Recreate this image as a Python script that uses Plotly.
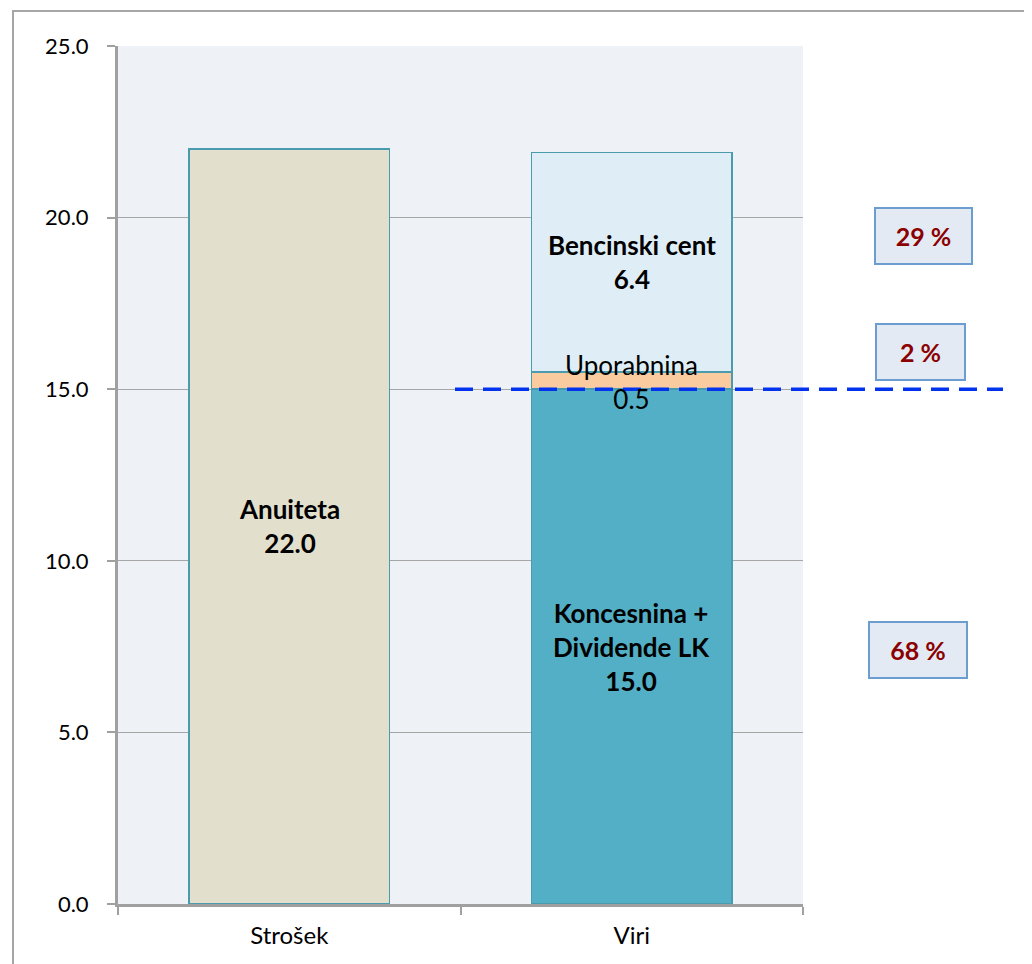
import plotly.graph_objects as go

categories = ["Strošek", "Viri"]
anuiteta = [22.0, None]
koncesnina = [None, 15.0]
uporabnina = [None, 0.5]
bencinski = [None, 6.4]
shares = ["68 %", "2 %", "29 %"]
share_y = [7.4, 16.08, 19.46]
y_ticks = [0, 5, 10, 15, 20, 25]

FONT = "Lato"
edge = dict(color="#4A9BAE", width=1.5)

fig = go.Figure()
fig.add_trace(go.Bar(x=categories, y=anuiteta, marker=dict(color="#E2DFCC", line=edge), width=0.585))
fig.add_trace(go.Bar(x=categories, y=koncesnina, marker=dict(color="#52AFC6", line=edge), width=0.585))
fig.add_trace(go.Bar(x=categories, y=uporabnina, marker=dict(color="#FBCBA0", line=edge), width=0.585))
fig.add_trace(go.Bar(x=categories, y=bencinski, marker=dict(color="#DFEEF6", line=edge), width=0.585))

ann = []
ann.append(dict(x=categories[0], y=anuiteta[0] / 2, text="<b>Anuiteta<br>22.0</b>", showarrow=False,
                font=dict(size=26, color="black", family=FONT)))
ann.append(dict(x=categories[1], y=koncesnina[1] / 2, text="<b>Koncesnina +<br>Dividende LK<br>15.0</b>", showarrow=False,
                font=dict(size=26, color="black", family=FONT)))
ann.append(dict(x=categories[1], y=koncesnina[1] + uporabnina[1] / 2 - 0.05, text="Uporabnina<br>0.5", showarrow=False,
                font=dict(size=26, color="black", family=FONT)))
ann.append(dict(x=categories[1], y=koncesnina[1] + uporabnina[1] + bencinski[1] / 2,
                text="<b>Bencinski cent<br>6.4</b>", showarrow=False,
                font=dict(size=26, color="black", family=FONT)))
share_x = [918, 920, 923]
share_w = [94, 85, 93]
for s, yv, xp, w in zip(shares, share_y, share_x, share_w):
    ann.append(dict(xref="paper", yref="y", x=(xp - 118) / 685, y=yv, xanchor="center", yanchor="middle",
                    text="<b>" + s + "</b>", showarrow=False,
                    font=dict(size=25, color="#8B0000", family=FONT), bgcolor="#E3EAF3",
                    bordercolor="#6C9DD0", borderwidth=2, width=w, height=52))

fig.update_layout(
    barmode="stack",
    showlegend=False,
    width=1024, height=956,
    margin=dict(l=110, r=229, t=38, b=60),
    paper_bgcolor="white",
    plot_bgcolor="#EEF2F7",
    annotations=ann,
    font=dict(family=FONT, size=24, color="black"),
    xaxis=dict(showline=True, linecolor="#A0A0A0", linewidth=3, ticks="outside", tickson="boundaries",
               ticklen=8, tickcolor="#A0A0A0", tickwidth=2, tickfont=dict(size=24, family=FONT),
               showgrid=False, ticklabelstandoff=8),
    yaxis=dict(range=[0, 25], tickvals=y_ticks, tickformat=".1f", showline=True, linecolor="#A0A0A0",
               linewidth=3, ticks="outside", ticklen=8, tickcolor="#A0A0A0", tickwidth=2,
               gridcolor="#A6A6A6", gridwidth=1, tickfont=dict(size=22, family=FONT), zeroline=False,
               ticklabelstandoff=14),
    shapes=[
        dict(type="line", xref="paper", yref="y", x0=(455 - 118) / 685, x1=(1003 - 118) / 685, y0=15, y1=15,
             line=dict(color="#0033EE", width=3.5, dash="18px,10px")),
        dict(type="rect", xref="paper", yref="paper", x0=(13 - 118) / 685, x1=1.6, y0=-0.3, y1=1 + 35 / 858,
             line=dict(color="#A6A6A6", width=2), layer="below"),
    ],
)

fig.write_html("out.html")
